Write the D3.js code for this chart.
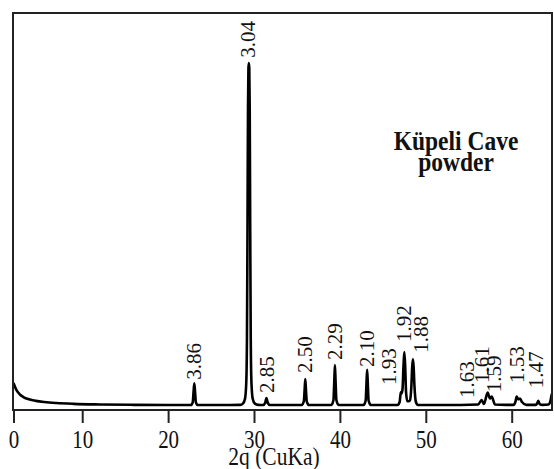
<!DOCTYPE html>
<html>
<head>
<meta charset="utf-8">
<script src="https://cdn.jsdelivr.net/npm/d3@7"></script>
<style>
  html, body { margin: 0; padding: 0; background: #fff; }
  svg { display: block; }
  text { font-family: "Liberation Serif", "Times New Roman", serif; fill: #111; }
</style>
</head>
<body>
<div id="chart"></div>
<script>
'use strict';

// diffraction trace (2-theta, counts)
var twoTheta = [
  2.0, 2.3, 2.7, 3.2, 3.8, 4.6, 5.6, 7.0, 9.0, 12, 16, 20, 22.65,
  22.87, 22.96, 23.05, 23.14, 23.23, 23.45, 26, 28.4,
  28.7, 28.95, 29.1, 29.18, 29.24, 29.3, 29.35, 29.4, 29.45, 29.5, 29.56, 29.62, 29.7, 29.85, 30.1, 30.5,
  31.05, 31.3, 31.45, 31.6, 31.85,
  35.55, 35.8, 35.89, 35.97, 36.05, 36.14, 36.4,
  39.0, 39.25, 39.34, 39.42, 39.5, 39.59, 39.85,
  42.75, 43.0, 43.09, 43.17, 43.25, 43.34, 43.6,
  46.7, 46.95, 47.1, 47.2, 47.3, 47.4, 47.5, 47.6, 47.7, 47.85, 48.0, 48.15, 48.32, 48.42, 48.5, 48.58, 48.68, 48.85, 49.1,
  52, 56.1, 56.5, 56.77, 57.2, 57.47, 57.67, 58.05,
  59.4, 60.2, 60.45, 60.58, 60.75, 60.97, 61.2, 61.7,
  62.8, 62.97, 63.1, 63.25, 63.6, 64.3, 64.5, 64.65, 64.75
];
var counts = [
  68, 52, 40, 32, 27, 23, 20, 17.5, 15.5, 14, 13, 12.5, 12.5,
  20, 45, 67, 45, 20, 12.5, 12.5, 13,
  16, 28, 70, 180, 450, 760, 860, 874, 860, 760, 450, 180, 70, 28, 16, 13,
  12.5, 18, 30, 18, 12.5,
  12.5, 22, 50, 78, 50, 22, 12.5,
  12.5, 25, 70, 113, 70, 25, 12.5,
  12.5, 24, 65, 101, 65, 24, 12.5,
  12.5, 20, 45, 42, 55, 110, 146, 110, 45, 22, 22, 24, 60, 110, 128, 110, 60, 20, 12.5,
  12.5, 14, 25, 15, 44, 29, 34, 14,
  13, 13, 22, 34, 27, 29, 20, 13,
  13, 17, 23, 15, 13, 14, 22, 38, 43
];

// d-spacing labels and where they sit
var peakLabels = ['3.86', '3.04', '2.85', '2.50', '2.29', '2.10', '1.93', '1.92', '1.88', '1.63', '1.61', '1.59', '1.53', '1.47'];
var labelTheta = [23.07, 29.36, 31.57, 35.99, 39.43, 43.15, 45.71, 47.46, 49.44, 54.79, 56.54, 57.94, 60.61, 62.83];
var labelLevel = [76, 887, 43, 93, 126, 108, 63, 171, 144, 30, 68, 45, 68, 55];

// x axis ticks
var tickTheta = [2, 10, 20, 30, 40, 50, 60];
var tickLabels = ['0', '10', '20', '30', '40', '50', '60'];

var width = 554, height = 469;
var plotLeft = 13, plotRight = 552, plotTop = 13, plotBottom = 410;
var stretch = 1.15; // text in the picture is a bit taller than wide

var svg = d3.select('#chart')
  .append('svg')
  .attr('width', width)
  .attr('height', height);

var x = d3.scaleLinear().domain([2, 64.75]).range([13.5, 552.5]);
var y = d3.scaleLinear().domain([0, 1000]).range([plotBottom, plotTop]);

svg.append('clipPath').attr('id', 'plot')
  .append('rect')
  .attr('x', plotLeft).attr('y', plotTop)
  .attr('width', plotRight - plotLeft).attr('height', plotBottom - plotTop);

// the trace
var line = d3.line()
  .x(function(d){ return x(d[0]); })
  .y(function(d){ return y(d[1]); })
  .curve(d3.curveMonotoneX);

svg.append('path')
  .datum(d3.zip(twoTheta, counts))
  .attr('clip-path', 'url(#plot)')
  .attr('fill', 'none')
  .attr('stroke', '#000')
  .attr('stroke-width', 2.6)
  .attr('stroke-linejoin', 'round')
  .attr('d', line);

// frame
svg.append('rect')
  .attr('x', plotLeft).attr('y', plotTop)
  .attr('width', plotRight - plotLeft).attr('height', plotBottom - plotTop)
  .attr('fill', 'none')
  .attr('stroke', '#222')
  .attr('stroke-width', 2);

// bottom axis
var axis = d3.axisBottom(x)
  .tickValues(tickTheta)
  .tickFormat(function(d, i){ return tickLabels[i]; })
  .tickSize(13);

var g = svg.append('g')
  .attr('transform', 'translate(0,' + plotBottom + ')')
  .call(axis);
g.select('.domain').remove();
g.selectAll('.tick line').attr('stroke', '#222').attr('stroke-width', 2);
g.selectAll('.tick text')
  .attr('y', 0)
  .attr('dy', 0)
  .attr('transform', 'translate(0,38) scale(1,' + stretch + ')')
  .attr('font-size', 21)
  .attr('fill', '#111');

svg.append('text')
  .attr('transform', 'translate(274,465) scale(1,' + stretch + ')')
  .attr('text-anchor', 'middle')
  .attr('font-size', 21.5)
  .text('2q (CuKa)');

// peak labels, rotated
svg.selectAll('text.peak')
  .data(peakLabels)
  .enter()
    .append('text')
    .attr('class', 'peak')
    .attr('font-size', 21)
    .attr('dy', '0.33em')
    .attr('transform', function(d, i){
      return 'translate(' + x(labelTheta[i]) + ',' + y(labelLevel[i]) + ') rotate(-90)';
    })
    .text(function(d){ return d; });

// sample name
var title = svg.append('text')
  .attr('transform', 'translate(456,150) scale(1,' + stretch + ')')
  .attr('text-anchor', 'middle')
  .attr('font-weight', 'bold')
  .attr('font-size', 23.5);
title.append('tspan').attr('x', 0).attr('y', 0).text('Küpeli Cave');
title.append('tspan').attr('x', 0).attr('y', 21 / stretch).text('powder');
</script>
</body>
</html>
